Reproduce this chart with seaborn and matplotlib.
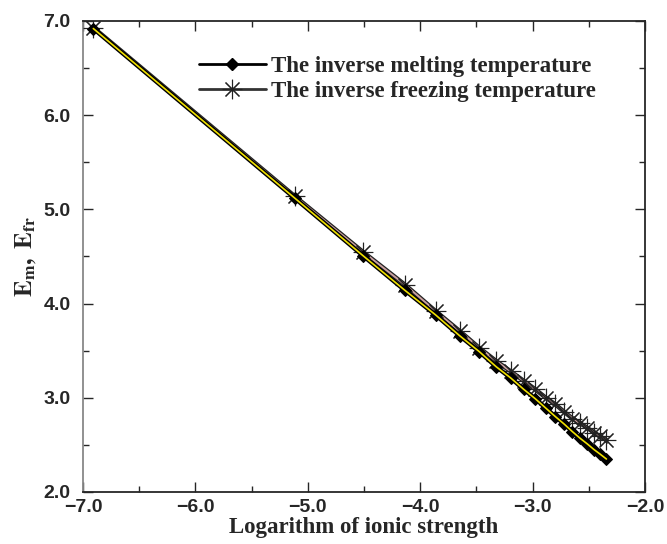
import numpy as np
import pandas as pd
import seaborn as sns
import matplotlib
matplotlib.use('Agg')
import matplotlib.pyplot as plt
from matplotlib.ticker import MultipleLocator, FuncFormatter
from matplotlib.lines import Line2D

# data
log_ionic = [-6.908, -5.116, -4.510, -4.135, -3.863, -3.650, -3.474, -3.324, -3.194, -3.079,
             -2.976, -2.882, -2.797, -2.718, -2.645, -2.577, -2.513, -2.453, -2.397, -2.343]
e_melt = [6.92, 5.12, 4.51, 4.14, 3.88, 3.66, 3.49, 3.33, 3.21, 3.09,
          2.99, 2.89, 2.80, 2.72, 2.64, 2.57, 2.51, 2.45, 2.40, 2.35]
e_freeze = [6.93, 5.14, 4.55, 4.20, 3.92, 3.71, 3.53, 3.39, 3.28, 3.18,
            3.09, 3.00, 2.93, 2.85, 2.78, 2.73, 2.68, 2.63, 2.59, 2.55]
labels = ['The inverse melting temperature', 'The inverse freezing temperature']

sns.set_theme(style='ticks')
plt.rcParams['font.family'] = ['Liberation Sans', 'DejaVu Sans']
plt.rcParams['mathtext.fontset'] = 'stix'

df = pd.DataFrame({'x': log_ionic, 'melt': e_melt, 'freeze': e_freeze})

fig = plt.figure(figsize=(6.67, 5.44), dpi=100)
ax = fig.add_axes([0.1244, 0.0956, 0.8426, 0.8658])

# freezing: dark outline + rosy line, asterisk markers
sns.lineplot(ax=ax, data=df, x='x', y='freeze', color='#222222', lw=3.2, zorder=2)
sns.lineplot(ax=ax, data=df, x='x', y='freeze', color='#c9a0a0', lw=1.4, zorder=3,
             marker=(8, 2, 0), markersize=14, markeredgecolor='#222222', markeredgewidth=0.8)
# melting: dark outline + yellow line, diamond markers
sns.lineplot(ax=ax, data=df, x='x', y='melt', color='black', lw=3.2, zorder=4,
             marker='D', markersize=6, markerfacecolor='black', markeredgecolor='black')
sns.lineplot(ax=ax, data=df, x='x', y='melt', color='#f0e000', lw=1.2, zorder=5)

ax.set_xlim(-7, -2)
ax.set_ylim(2, 7)
ax.xaxis.set_major_locator(MultipleLocator(1.0))
ax.xaxis.set_minor_locator(MultipleLocator(0.5))
ax.yaxis.set_major_locator(MultipleLocator(1.0))
ax.yaxis.set_minor_locator(MultipleLocator(0.5))
fmt = FuncFormatter(lambda v, p: f'{v:.1f}'.replace('-', '\u2212'))
ax.xaxis.set_major_formatter(fmt)
ax.yaxis.set_major_formatter(fmt)
ax.tick_params(which='both', direction='in', top=True, right=True, width=1.0)
ax.tick_params(axis='x', which='major', length=7, labelsize=14, pad=5)
ax.tick_params(axis='y', which='major', length=7, labelsize=14, pad=9)
ax.tick_params(which='minor', length=4)
for lab in ax.get_xticklabels() + ax.get_yticklabels():
    lab.set_fontweight('bold')
for sp in ax.spines.values():
    sp.set_linewidth(1.3)
ax.spines['left'].set_color('#888888')

ax.set_xlabel('Logarithm of ionic strength', fontsize=16.5, fontweight='bold',
              family=['Liberation Serif'], labelpad=1)
ax.set_ylabel(r'$\mathbf{E_m,\ E_{fr}}$', fontsize=18, labelpad=4)

handles = [
    Line2D([], [], color='black', lw=2, marker='D', markersize=6),
    Line2D([], [], color='#333333', lw=2, marker=(8, 2, 0), markersize=14,
           markeredgecolor='#222222', markeredgewidth=0.8),
]
ax.legend(handles, labels, loc='upper left', bbox_to_anchor=(0.17, 0.97), frameon=False,
          handlelength=2.9, handletextpad=0.25, labelspacing=0.2,
          prop={'family': 'Liberation Serif', 'weight': 'bold', 'size': 16.5})

fig.savefig('out.png', dpi=100)
